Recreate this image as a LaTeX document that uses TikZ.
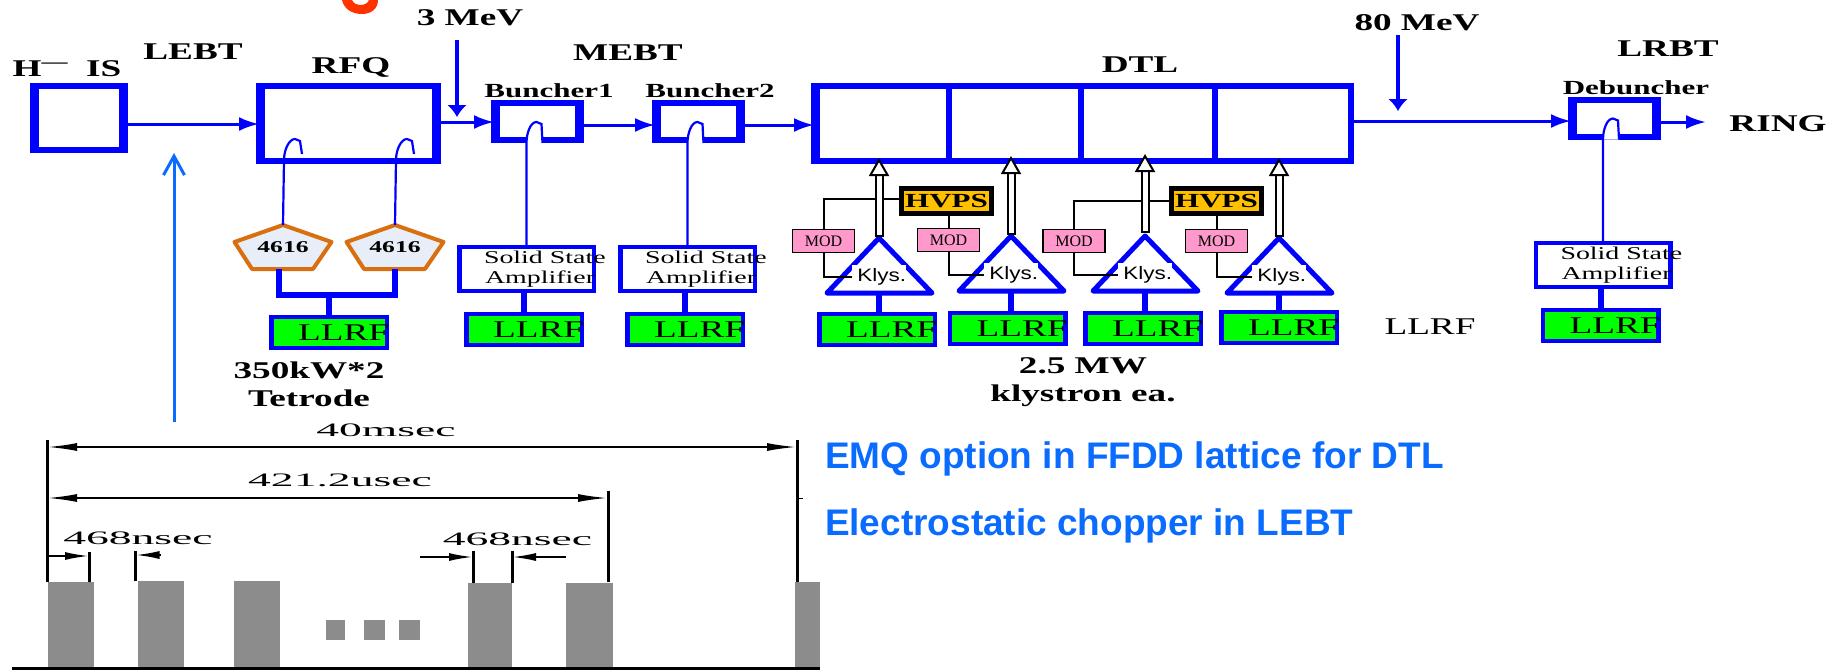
\documentclass[tikz,border=0pt]{standalone}
\usepackage{fontspec}
\setmainfont[FakeStretch=1.55]{Liberation Serif}
\newfontfamily\pulsefont[FakeStretch=2.4]{Liberation Serif}
\newfontfamily\modfont{Liberation Serif}
\newfontfamily\klysfont[FakeStretch=1.25]{Liberation Sans}
\newfontfamily\notefont{Liberation Sans}
\usetikzlibrary{arrows.meta,positioning,calc,backgrounds}
\definecolor{beamblue}{RGB}{0,0,255}
\definecolor{noteblue}{RGB}{10,108,255}
\definecolor{tubeorange}{RGB}{216,111,16}
\definecolor{tubefill}{RGB}{232,238,248}
\definecolor{hvpsgold}{RGB}{255,192,0}
\definecolor{modpink}{RGB}{255,153,204}
\definecolor{pulsegray}{RGB}{140,140,140}
\definecolor{titlered}{RGB}{255,51,0}
\newcommand{\ampline}[2]{\raisebox{-3pt}{\makebox[135pt][l]{\hspace*{#1pt}#2}}}
\newcommand{\amptext}{\ampline{25}{Solid State}\\\ampline{26}{Amplifier}}
\newcommand{\llrftext}{\raisebox{-3pt}{\makebox[116pt][r]{LLRF\hspace*{-2pt}}}}

\begin{document}
\begin{tikzpicture}[
        x=1pt,
        y=-1pt,
        outer sep=0pt,
        leftbar/.style={
            path picture={
                \fill[beamblue] (path picture bounding box.south west)
                    rectangle ([xshift=#1]path picture bounding box.north west);
            }
        },
        sidebars/.style={
            path picture={
                \fill[beamblue] (path picture bounding box.south west)
                    rectangle ([xshift=#1]path picture bounding box.north west);
                \fill[beamblue] (path picture bounding box.south east)
                    rectangle ([xshift=-#1]path picture bounding box.north east);
            }
        },
        cavity/.style={
            rectangle,
            draw=beamblue,
            line width=6pt,
            fill=white
        },
        amp/.style={
            rectangle,
            draw=beamblue,
            line width=4pt,
            sidebars=2.5pt,
            minimum width=135pt,
            minimum height=44pt,
            inner sep=0pt,
            align=left,
            font=\fontsize{18}{20}\selectfont
        },
        llrf/.style={
            rectangle,
            draw=beamblue,
            line width=4pt,
            fill=green,
            sidebars=2.5pt,
            minimum width=116pt,
            minimum height=31pt,
            inner sep=0pt,
            font=\fontsize{24}{26}\selectfont
        },
        hvps/.style={
            rectangle,
            draw=black,
            line width=5pt,
            fill=hvpsgold,
            minimum width=90pt,
            minimum height=25pt,
            inner sep=0pt,
            font=\bfseries\fontsize{20}{22}\selectfont
        },
        mod/.style={
            rectangle,
            draw=black,
            line width=1.5pt,
            fill=modpink,
            minimum width=62pt,
            minimum height=23pt,
            inner sep=0pt,
            font=\modfont\fontsize{16}{18}\selectfont
        },
        klys/.style={
            fill=white,
            minimum height=24pt,
            text width=54pt,
            inner sep=0pt,
            align=right,
            font=\klysfont\fontsize{18}{20}\selectfont
        },
        tube/.style={
            minimum width=97pt,
            minimum height=44pt,
            inner sep=0pt,
            font=\bfseries\fontsize{16.5}{18}\selectfont
        },
        tubeedge/.style={
            draw=tubeorange,
            line width=4pt,
            line join=round,
            fill=tubefill
        },
        klysedge/.style={
            draw=beamblue,
            line width=5pt,
            line join=round,
            fill=white
        },
        heading/.style={
            font=\bfseries\fontsize{24}{28}\selectfont,
            align=center,
            inner sep=0pt
        },
        smallhead/.style={
            font=\bfseries\fontsize{20}{22}\selectfont,
            inner sep=0pt
        },
        dimtext/.style={
            font=\pulsefont\fontsize{19}{21}\selectfont,
            inner sep=0pt
        },
        note/.style={
            anchor=base west,
            inner sep=0pt,
            text=noteblue,
            font=\notefont\bfseries\fontsize{37}{40}\selectfont
        },
        pulse/.style={
            fill=pulsegray
        },
        arrow/.style={
            draw=beamblue,
            line width=3pt,
            -{Latex[length=20pt,width=14pt]}
        },
        energy/.style={
            draw=beamblue,
            line width=4.5pt,
            -{Latex[length=12pt,width=20pt]}
        },
        feed/.style={
            draw=beamblue,
            line width=6pt
        },
        pickup/.style={
            draw=beamblue,
            line width=2.2pt
        },
        wire/.style={
            draw=black,
            line width=2pt
        },
        rfline/.style={
            draw=black,
            line width=2pt,
            double=white,
            double distance=5pt,
            {Bar[width=9pt,line width=2pt]}-{Triangle[open,fill=white,length=18pt,width=20pt,line width=2pt]}
        },
        tickline/.style={
            draw=black,
            line width=3pt
        },
        span/.style={
            draw=black,
            line width=2pt,
            {Latex[length=30pt,width=8pt]}-{Latex[length=30pt,width=8pt]}
        },
        gap/.style={
            draw=black,
            line width=2pt,
            -{Latex[length=24pt,width=8pt]}
        }
    ]
    \useasboundingbox (0,0) rectangle (1829,670);
    % Beam line
    \node[cavity, sidebars=6pt, minimum width=92pt, minimum height=64pt] (his) at (79,118) {};
    \node[cavity, sidebars=6pt, minimum width=179pt, minimum height=75pt] (rfq) at (348.5,123.5) {};
    \node[cavity, sidebars=6pt, minimum width=87pt, minimum height=37pt] (bun1) at (537.5,121.5) {};
    \node[cavity, sidebars=6pt, minimum width=87pt, minimum height=37pt, right=74pt of bun1] (bun2) {};
    \node[cavity, leftbar=6pt, minimum width=135pt, minimum height=75pt] (dtl1) at (881.5,123.5) {};
    \node[cavity, minimum width=132pt, minimum height=75pt, right=0pt of dtl1] (dtl2) {};
    \node[cavity, minimum width=134pt, minimum height=75pt, right=0pt of dtl2] (dtl3) {};
    \node[cavity, leftbar=0pt, minimum width=136pt, minimum height=75pt, right=0pt of dtl3] (dtl4) {};
    \node[cavity, sidebars=6pt, minimum width=87pt, minimum height=37pt] (debun) at (1614.5,118) {};
    \fill[beamblue] (dtl4.south east) rectangle ([xshift=3pt]dtl4.north east);
    % Free ends of the beam line
    \coordinate (ring) at (1706,122);
    \coordinate (mev3a) at (457,40);
    \coordinate (mev3b) at (457,117);
    \coordinate (mev80a) at (1398,35);
    \coordinate (mev80b) at (1398,111);
    \coordinate (chopa) at (174,422);
    \coordinate (chopb) at (174,153);
    % Amplifiers and LLRF
    \node[amp] (amp1) at (526.5,269) {\amptext};
    \node[amp, right=26pt of amp1] (amp2) {\amptext};
    \node[amp] (amp3) at (1603,265) {\amptext};
    \node[llrf] (llrf0) at (329,332.5) {\llrftext};
    \node[llrf] (llrf1) at (524,329.5) {\llrftext};
    \node[llrf, right=45pt of llrf1] (llrf2) {\llrftext};
    \node[llrf] (llrf3) at (877,329.5) {\llrftext};
    \node[llrf] (llrf4) at (1007.5,328.5) {\llrftext};
    \node[llrf] (llrf5) at (1143,328.5) {\llrftext};
    \node[llrf] (llrf6) at (1279,327.5) {\llrftext};
    \node[llrf] (llrf7) at (1600.5,325.5) {\llrftext};
    % Tetrodes
    \node[tube] (tube1) at (283,247) {4616};
    \node[tube] (tube2) at (395,247) {4616};
    % Klystrons, power supplies and modulators
    \node[klys] (k1) at (879,277) {\raisebox{-2pt}{Klys.}};
    \node[klys] (k2) at (1011,275) {\raisebox{-2pt}{Klys.}};
    \node[klys] (k3) at (1145,275) {\raisebox{-2pt}{Klys.}};
    \node[klys] (k4) at (1279,277) {\raisebox{-2pt}{Klys.}};
    \node[hvps] (hv1) at (946.5,201) {HVPS};
    \node[hvps] (hv2) at (1216.5,201) {HVPS};
    \node[mod] (mod1) at (823.5,241) {MOD};
    \node[mod] (mod2) at (948.5,240) {MOD};
    \node[mod] (mod3) at (1074,241) {MOD};
    \node[mod] (mod4) at (1216.5,241) {MOD};
    % Outlines under the texts
    \begin{pgfonlayer}{background}
        \foreach \t in {tube1,tube2}
            \draw[tubeedge] (\t.north) -- ($(\t.east)+(0,-5)$) -- ($(\t.south)+(30,0)$)
                -- ($(\t.south)+(-31,0)$) -- ($(\t.west)+(0,-5)$) -- cycle;
    \end{pgfonlayer}
    \foreach \k in {k1,k2,k3,k4}{
        \begin{pgfonlayer}{background}
            \draw[klysedge] ($(\k.center)+(0,-39)$) -- ($(\k.center)+(53,16)$)
                -- ($(\k.center)+(-52,16)$) -- cycle;
        \end{pgfonlayer}
    }
    % Beam connections
    \draw[arrow] ([yshift=-6pt]his.east) -- ([yshift=-6pt]his.east -| rfq.west);
    \draw[arrow] ([yshift=1.5pt]rfq.east) -- ([yshift=1.5pt]rfq.east -| bun1.west);
    \draw[arrow] ([yshift=-3.5pt]bun1.east) -- ([yshift=-3.5pt]bun1.east -| bun2.west);
    \draw[arrow] ([yshift=-3.5pt]bun2.east) -- ([yshift=-3.5pt]bun2.east -| dtl1.west);
    \draw[arrow] ([yshift=2.5pt]dtl4.east) -- ([yshift=2.5pt]dtl4.east -| debun.west);
    \draw[arrow] (debun.east |- ring) -- (ring);
    \draw[energy] (mev3a) -- (mev3b);
    \draw[energy] (mev80a) -- (mev80b);
    \draw[line width=3pt, draw=noteblue, -{Straight Barb[length=19pt,width=21pt,line width=3pt]}] (chopa) -- (chopb);
    % Drive lines
    \foreach \t in {tube1,tube2}
        \draw[pickup] (\t.north) -- ++(1,-65) .. controls +(0,-10) and +(-6,0) .. ++(11,-21) -- ++(5,2) -- ++(2,13);
    \foreach \s/\e in {amp1/bun1,amp2/bun2,amp3/debun}{
        \fill[white] ([yshift=-3pt]\s.north |- \e.south) .. controls +(0,-10) and +(-6,0) .. ++(10,-21)
            -- ++(5,2) -- ++(1,19) -- cycle;
        \draw[pickup] (\s.north) -- ([yshift=-3pt]\s.north |- \e.south)
            .. controls +(0,-10) and +(-6,0) .. ++(10,-21) -- ++(5,2) -- ++(1,19);
    }
    \draw[feed] (tube1.south) ++(-4,0) -- ++(0,26) -| (tube2.south);
    \draw[feed] (llrf0.north) -- ++(0,-20);
    \foreach \a/\l in {amp1/llrf1,amp2/llrf2,amp3/llrf7}
        \draw[feed] (\l.north) -- (\a.south -| \l.north);
    \foreach \k/\l in {k1/llrf3,k2/llrf4,k3/llrf5,k4/llrf6}
        \draw[feed] ($(\k.center)+(0,16)$) -- (\l.north -| \k);
    % Power wiring
    \draw[wire] ([yshift=2pt]hv1.west) -| (mod1.north);
    \draw[wire] (hv2.west) -| (mod3.north);
    \draw[wire] (hv1.south -| mod2.north) -- (mod2.north);
    \draw[wire] (hv2.south) -- (mod4.north);
    \foreach \m/\k in {mod1/k1,mod2/k2,mod3/k3,mod4/k4}
        \draw[wire] (\m.south) |- (\k.west);
    % RF power to the DTL tanks
    \draw[rfline] ($(k1.center)+(0,-40)$) -- ($(k1.center)+(0,-119)$);
    \draw[rfline] ($(k2.center)+(0,-40)$) -- ($(k2.center)+(0,-119)$);
    \draw[rfline] ($(k3.center)+(0,-42)$) -- ($(k3.center)+(0,-121)$);
    \draw[rfline] ($(k4.center)+(0,-40)$) -- ($(k4.center)+(0,-119)$);
    % Labels
    \node[heading] (his_lbl) at (67,69) {H\textsuperscript{---}\hspace{18pt}IS};
    \node[heading] (lebt_lbl) at (193,52) {LEBT};
    \node[heading] (rfq_lbl) at (351,67) {RFQ};
    \node[heading] (mev3_lbl) at (470,18) {3 MeV};
    \node[heading] (mebt_lbl) at (628,53) {MEBT};
    \node[smallhead] (bun1_lbl) at (549,91) {Buncher1};
    \node[smallhead] (bun2_lbl) at (710,91) {Buncher2};
    \node[heading] (dtl_lbl) at (1140,65) {DTL};
    \node[heading] (mev80_lbl) at (1417,23) {80 MeV};
    \node[heading] (lrbt_lbl) at (1668,49) {LRBT};
    \node[smallhead] (debun_lbl) at (1636,88) {Debuncher};
    \node[heading] (ring_lbl) at (1778,124) {RING};
    \node[inner sep=0pt, font=\fontsize{24}{26}\selectfont] (llrf_lbl) at (1430,327) {LLRF};
    \node[heading] (tetrode_lbl) at (309,384) {350kW*2\\Tetrode};
    \node[heading] (klystron_lbl) at (1083,382) {2.5 MW\\klystron ea.};
    \node[note] (note1) at (825,468) {EMQ option in FFDD lattice for DTL};
    \node[note] (note2) at (825,535) {Electrostatic chopper in LEBT};
    % Fragment of red lettering at the top edge
    \fill[titlered] (342,0) .. controls (344,9) and (352,14) .. (362,14)
        .. controls (372,14) and (378,8) .. (378,0) -- (369,0)
        .. controls (368,3) and (365,5) .. (360,5) .. controls (357,5) and (354,4) .. (352,0) -- cycle;
    % Pulse structure
    \foreach \xa/\xb/\ya in {48/94/582,138/184/581,234/280/581,468/512/583,566/613/583,795/820/582,326/345/620,364/385/620,399/420/620}
        \fill[pulse] (\xa,\ya) rectangle (\xb,{\ya<600 ? 667 : 640});
    \node[inner sep=0pt, minimum width=808pt, minimum height=3pt, fill=black] (base) at (416,668.5) {};
    \node[dimtext] (msec_lbl) at (386,430) {40msec};
    \node[dimtext] (usec_lbl) at (340,480) {421.2usec};
    \node[dimtext] (nsec1_lbl) at (138,538.5) {468nsec};
    \node[dimtext] (nsec2_lbl) at (517.5,539.5) {468nsec};
    % Time marks, each standing on its pulse
    \coordinate (ta) at (47,440);
    \coordinate (tb) at (797,440);
    \coordinate (tc) at (608,491);
    \coordinate (td) at (89,552);
    \coordinate (te) at (135.5,551);
    \coordinate (tf) at (473,551);
    \coordinate (tg) at (512,551);
    \coordinate (th) at (161,555);
    \coordinate (ti) at (420,557);
    \coordinate (tj) at (566,557);
    \draw[tickline] (ta) -- (47,582);
    \draw[tickline] (tb) -- (797,582);
    \draw[tickline] (tc) -- (608,582);
    \draw[tickline] (td) -- (89,582);
    \draw[tickline] (te) -- (135.5,581);
    \draw[tickline] (tf) -- (473,583);
    \draw[tickline] (tg) -- (512,583);
    \draw[span] (47,447) -- (797,447);
    \draw[span] (47,498) -- (608,498);
    \draw[line width=.8pt, draw=black] (797,498) -- (803,498);
    \draw[gap] (47,556) -- (td |- 0,556);
    \draw[gap] (th) -- (te |- th);
    \draw[gap] (ti) -- (tf |- ti);
    \draw[gap] (tj) -- (tg |- tj);
\end{tikzpicture}
\end{document}
